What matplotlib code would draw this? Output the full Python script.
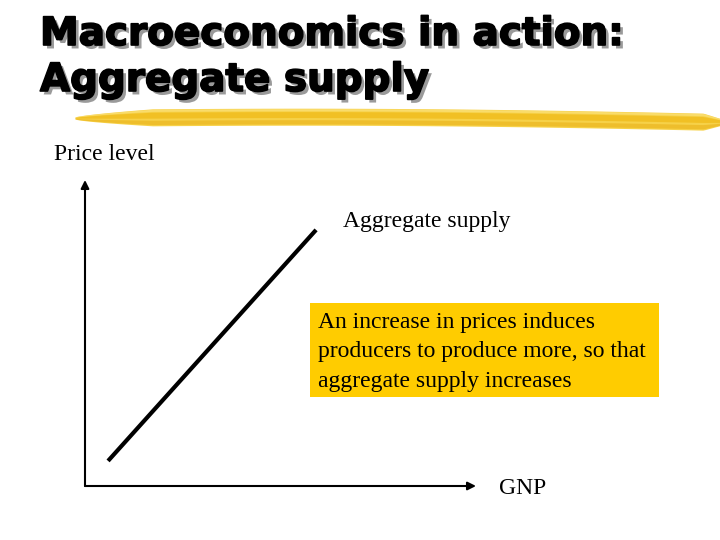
import matplotlib.pyplot as plt
import matplotlib.patheffects as pe
import numpy as np

# chart content
title_lines = ["Macroeconomics in action:", "Aggregate supply"]
y_label = "Price level"
x_label = "GNP"
curve_label = "Aggregate supply"
note = "An increase in prices induces\nproducers to produce more, so that\naggregate supply increases"

# supply curve (GNP, price level) in chart units 0-10
supply_gnp = [0.59, 5.91]
supply_price = [0.82, 8.37]

W, H = 720, 540
fig = plt.figure(figsize=(7.2, 5.4), dpi=100)

# full-figure overlay in pixel coords for title and decoration
bg = fig.add_axes([0, 0, 1, 1])
bg.set_xlim(0, W)
bg.set_ylim(H, 0)
bg.axis("off")

shadow = [pe.withSimplePatchShadow(offset=(2.5, -2.5), shadow_rgbFace="#9a9a9a", alpha=1.0),
          pe.Stroke(linewidth=1.2, foreground="black"), pe.Normal()]
for i, line in enumerate(title_lines):
    bg.text(40, 15 + 46 * i, line, fontsize=28, fontweight="bold", family="DejaVu Sans",
            va="top", ha="left", path_effects=shadow)

# brush stroke under the title
xs = np.linspace(75, 720, 300)
t = (xs - 75) / 645
center = 118 + 4 * t ** 2 - 2 * np.sin(np.pi * t)
taper = np.clip(t / 0.12, 0, 1) ** 0.7 * np.clip((1.0 - t) / 0.04 + 0.35, 0, 1)
half = 1 + 7.5 * taper
bg.fill_between(xs, center - half, center + half, color="#f6cc34", alpha=0.9, lw=0)
bg.fill_between(xs, center - half * 0.6, center + half * 0.1, color="#efba16", alpha=0.7, lw=0)
bg.fill_between(xs, center + half * 0.35, center + half * 0.85, color="#eab21a", alpha=0.6, lw=0)
bg.fill_between(xs, center - half * 0.95, center - half * 0.7, color="#fbdf74", alpha=0.8, lw=0)

# chart axes
left, right, bottom, top = 85, 476, 486, 180
ax = fig.add_axes([left / W, 1 - bottom / H, (right - left) / W, (bottom - top) / H])
ax.set_xlim(0, 10)
ax.set_ylim(0, 10)
ax.axis("off")
arrow = dict(arrowstyle="-|>", lw=1.5, color="black", mutation_scale=12, shrinkA=0, shrinkB=0)
ax.annotate("", xy=(10, 0), xytext=(0, 0), arrowprops=arrow)
ax.annotate("", xy=(0, 10), xytext=(0, 0), arrowprops=arrow)
ax.plot(supply_gnp, supply_price, color="black", lw=3, solid_capstyle="butt")

serif = "Liberation Serif"
bg.text(54, 155, y_label, fontsize=17, family=serif, va="center", ha="left")
bg.text(343, 221, curve_label, fontsize=17, family=serif, va="center", ha="left")
bg.text(499, 488, x_label, fontsize=17, family=serif, va="center", ha="left")

bg.add_patch(plt.Rectangle((310, 303), 349, 94, color="#ffcc00", lw=0))
bg.text(318, 352, note, fontsize=17, family=serif, va="center", ha="left", linespacing=1.52)

fig.savefig("out.png", dpi=100)
